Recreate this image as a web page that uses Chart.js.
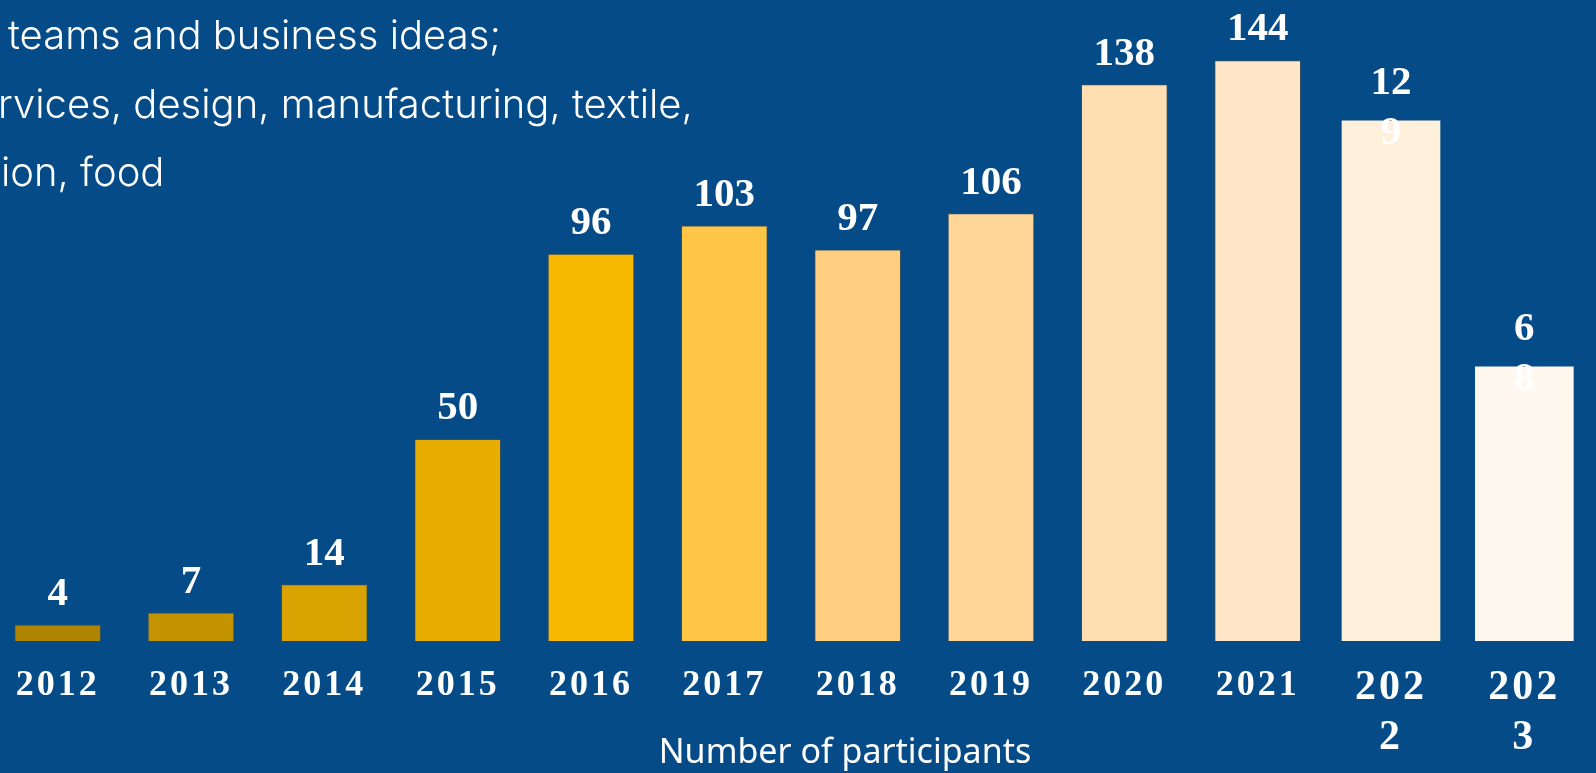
<!DOCTYPE html>
<html>
<head>
<meta charset="utf-8">
<script src="https://cdn.jsdelivr.net/npm/chart.js@4/dist/chart.umd.min.js"></script>
<style>
  html, body { margin:0; padding:0; width:1596px; height:773px; overflow:hidden; background:#044B87; }
  #wrap { position:absolute; left:-9px; top:0; width:1600px; height:773px; }
  .intro { position:absolute; left:0; top:1px; color:#fff; font-family:Inter, 'Open Sans', sans-serif; font-weight:300; font-size:40px; line-height:68.5px; white-space:pre; }
  .intro span { display:block; }
  #xtitle { position:absolute; left:645px; width:400px; top:732px; text-align:center; color:#fff; font-family:'Noto Sans', sans-serif; font-size:34px; line-height:36px; white-space:nowrap; }
</style>
</head>
<body>
<div id="wrap"><canvas id="c"></canvas></div>
<div class="intro"><span style="margin-left:8px">teams and business ideas;</span><span style="margin-left:-2px">rvices, design, manufacturing, textile,</span><span style="margin-left:1px">ion, food</span></div>
<div id="xtitle">Number of participants</div>
<script>
// ---- data ----
const years = ['2012','2013','2014','2015','2016','2017','2018','2019','2020','2021','2022','2023'];
const participants = [4, 7, 14, 50, 96, 103, 97, 106, 138, 144, 129, 68];

// ---- styles ----
const barColors = ['#AE8400','#C39300','#D8A200','#E7AD00','#F6B900','#FFC545',
                   '#FFCE7E','#FFD598','#FFDFB2','#FFE6C6','#FFF0DB','#FFF8EF'];
const WIDE_FROM = 10;                 // last categories drawn wider, with wrapped labels
const valueCharsPerLine = {10: 2, 11: 1};
const serif = '"Liberation Serif", "Times New Roman", serif';

const tickSpacing = {
  id: 'tickSpacing',
  beforeDraw(chart) { chart.ctx.letterSpacing = '3px'; },
  beforeDatasetsDraw(chart) { chart.ctx.letterSpacing = '0px'; }
};

const valueLabels = {
  id: 'valueLabels',
  afterDatasetsDraw(chart) {
    const ctx = chart.ctx;
    ctx.save();
    ctx.letterSpacing = '0px';
    ctx.fillStyle = '#ffffff';
    ctx.font = 'bold 41px ' + serif;
    ctx.textAlign = 'center';
    ctx.textBaseline = 'alphabetic';
    chart.data.datasets.forEach((ds, di) => {
      const meta = chart.getDatasetMeta(di);
      meta.data.forEach((el, i) => {
        const v = ds.data[i];
        if (v === null || v === undefined) return;
        const s = String(v);
        const per = valueCharsPerLine[i] || s.length;
        const lines = [];
        for (let k = 0; k < s.length; k += per) lines.push(s.slice(k, k + per));
        const gap = lines.length > 1 ? 27 : 20;
        lines.forEach((ln, j) => ctx.fillText(ln, el.x, el.y - gap + j * 50));
      });
    });
    ctx.restore();
  }
};

new Chart(document.getElementById('c'), {
  type: 'bar',
  data: {
    labels: years,
    datasets: [
      {
        data: participants.map((v, i) => i < WIDE_FROM ? v : null),
        backgroundColor: barColors,
        borderColor: 'rgba(95,85,70,0.55)',
        borderWidth: 1,
        barThickness: 86,
        grouped: false
      },
      {
        data: participants.map((v, i) => i >= WIDE_FROM ? v : null),
        backgroundColor: barColors,
        borderWidth: 0,
        barThickness: 98,
        grouped: false
      }
    ]
  },
  options: {
    responsive: true,
    maintainAspectRatio: false,
    animation: false,
    layout: { padding: 0 },
    plugins: { legend: { display: false }, tooltip: { enabled: false } },
    scales: {
      x: {
        grid: { display: false, drawTicks: false },
        border: { display: false },
        ticks: {
          color: '#ffffff',
          padding: 23,
          autoSkip: false,
          maxRotation: 0,
          font: (c) => c.index >= WIDE_FROM
            ? { family: serif, weight: 'bold', size: 42, lineHeight: 1.17 }
            : { family: serif, weight: 'bold', size: 36, lineHeight: 1.2 },
          callback: function (value, index) {
            const l = this.getLabelForValue(value);
            return index >= WIDE_FROM ? [l.slice(0, 3), l.slice(3)] : l;
          }
        },
        afterFit: (scale) => { scale.height = 132; }
      },
      y: {
        display: false,
        min: 0,
        max: 159
      }
    }
  },
  plugins: [tickSpacing, valueLabels]
});
</script>
</body>
</html>
